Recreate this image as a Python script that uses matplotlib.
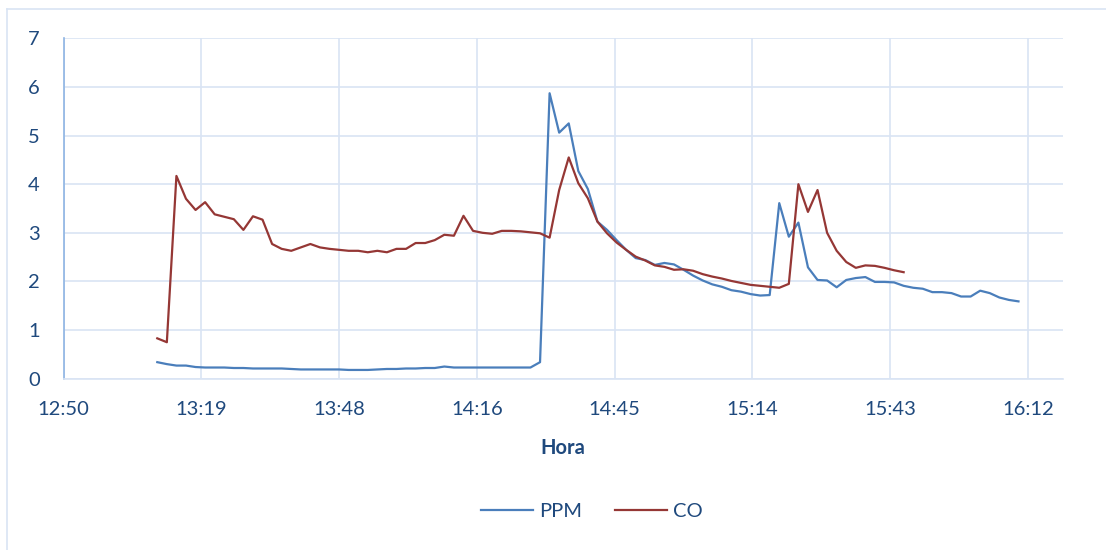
import matplotlib
matplotlib.use("Agg")
import matplotlib.pyplot as plt
from matplotlib.lines import Line2D

plt.rcParams['font.family'] = ['Lato', 'DejaVu Sans']

# readings every 2 minutes, starting at 13:10
start_min = 13*60 + 10
step_min = 2

ppm = [0.34, 0.30, 0.27, 0.27, 0.24, 0.23, 0.23, 0.23, 0.22, 0.22,
       0.21, 0.21, 0.21, 0.21, 0.20, 0.19, 0.19, 0.19, 0.19, 0.19,
       0.18, 0.18, 0.18, 0.19, 0.20, 0.20, 0.21, 0.21, 0.22, 0.22,
       0.25, 0.23, 0.23, 0.23, 0.23, 0.23, 0.23, 0.23, 0.23, 0.23,
       0.34, 5.87, 5.06, 5.25, 4.27, 3.90, 3.23, 3.06, 2.85, 2.65,
       2.48, 2.44, 2.34, 2.38, 2.35, 2.24, 2.12, 2.02, 1.94, 1.89,
       1.82, 1.79, 1.74, 1.71, 1.72, 3.61, 2.92, 3.21, 2.29, 2.03,
       2.02, 1.88, 2.03, 2.07, 2.09, 1.99, 1.99, 1.98, 1.91, 1.87,
       1.85, 1.78, 1.78, 1.76, 1.69, 1.69, 1.81, 1.76, 1.67, 1.62,
       1.59]

co = [0.83, 0.75, 4.17, 3.70, 3.47, 3.63, 3.38, 3.33, 3.28, 3.06,
      3.34, 3.27, 2.77, 2.67, 2.63, 2.70, 2.77, 2.70, 2.67, 2.65,
      2.63, 2.63, 2.60, 2.63, 2.60, 2.67, 2.67, 2.79, 2.79, 2.85,
      2.96, 2.94, 3.35, 3.04, 3.00, 2.98, 3.04, 3.04, 3.03, 3.01,
      2.99, 2.90, 3.88, 4.55, 4.02, 3.71, 3.23, 2.99, 2.80, 2.65,
      2.51, 2.43, 2.33, 2.30, 2.24, 2.25, 2.22, 2.15, 2.10, 2.06,
      2.01, 1.97, 1.93, 1.91, 1.89, 1.87, 1.95, 4.00, 3.43, 3.88,
      3.00, 2.63, 2.40, 2.28, 2.33, 2.32, 2.28, 2.23, 2.19]

# excel date axis: min 0.535 day, major unit 0.02 day, max 0.68 day
x_min = 0.535*1440
x_max = 0.68*1440
x_unit = 0.02*1440

t_ppm = [start_min + step_min*i for i in range(len(ppm))]
t_co = [start_min + step_min*i for i in range(len(co))]

grid_c = '#D9E4F4'
text_c = '#1F497D'

fig = plt.figure(figsize=(11.06, 5.5), dpi=100)
ax = fig.add_axes([63.5/1106, 1-378.7/550, (1062.5-63.5)/1106, (378.7-38.3)/550])

ax.plot(t_ppm, ppm, color='#4A7EBB', lw=1.6, label='PPM')
ax.plot(t_co, co, color='#953735', lw=1.6, label='CO')

ax.set_xlim(x_min, x_max)
ax.set_ylim(0, 7)
xt = [x_min + x_unit*k for k in range(8)]
ax.set_xticks(xt)
ax.set_xticklabels(['%d:%02d' % (int(m)//60, int(m) % 60) for m in xt])
ax.set_yticks(range(0, 8))

ax.grid(True, color=grid_c, lw=1.2)
ax.set_axisbelow(True)
for s in ['top', 'right']:
    ax.spines[s].set_visible(False)
ax.spines['bottom'].set_color(grid_c)
ax.spines['bottom'].set_linewidth(1.2)
ax.spines['left'].set_color('#8EB4E3')
ax.spines['left'].set_linewidth(1.2)
ax.tick_params(length=0, labelsize=14.5, labelcolor=text_c)
ax.tick_params(axis='x', pad=16)
ax.tick_params(axis='y', pad=17)

fig.text(563/1106, 1-448/550, 'Hora', ha='center', va='center',
         fontsize=14.5, fontweight='bold', color=text_c)

fig.legend(loc='center', bbox_to_anchor=(592/1106, 1-511/550), ncol=2,
           frameon=False, fontsize=14.5, labelcolor=text_c,
           handlelength=2.6, handletextpad=0.3, columnspacing=1.6)

# chart area border (only top and left visible in the crop)
fig.add_artist(Line2D([7/1106, 1], [1-9/550, 1-9/550], color=grid_c, lw=1.2))
fig.add_artist(Line2D([7/1106, 7/1106], [0, 1-9/550], color=grid_c, lw=1.2))

fig.savefig('out.png', dpi=100)
